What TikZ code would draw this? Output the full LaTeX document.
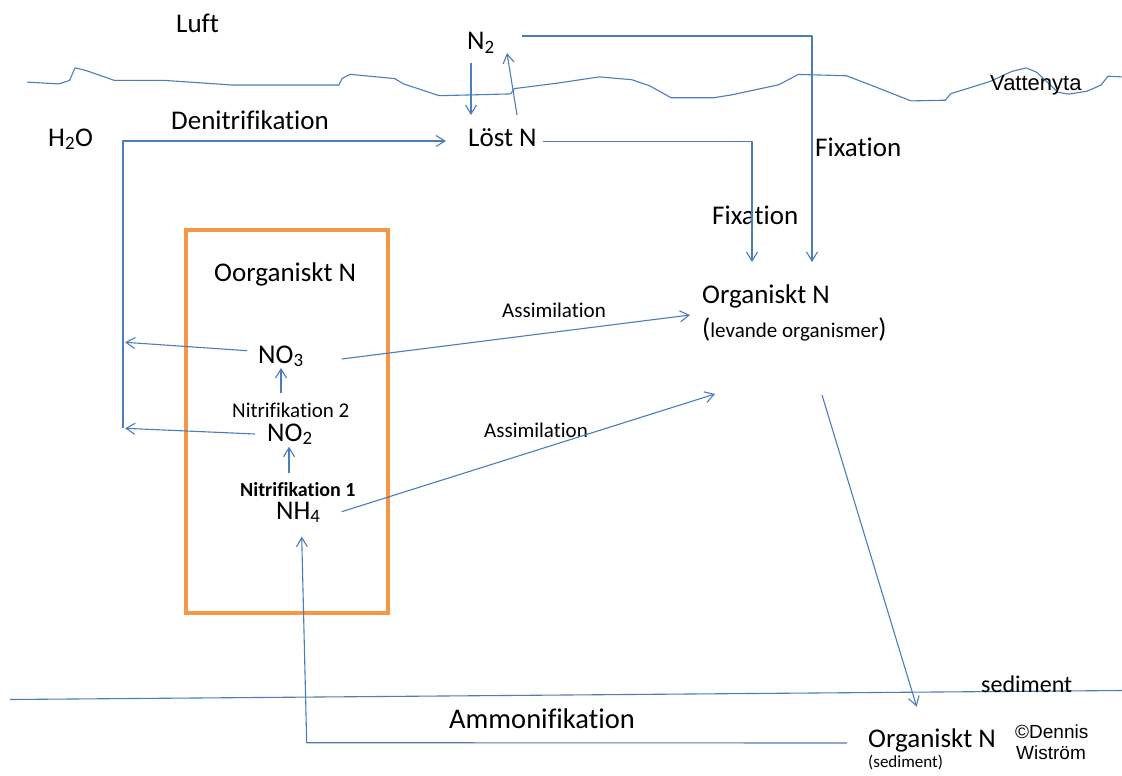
\documentclass[tikz,border=0pt]{standalone}
\usepackage{fontspec}
\setmainfont{Carlito}[Ligatures=NoCommon]
\newfontfamily\arialf{Liberation Sans}
\usetikzlibrary{arrows.meta}
\definecolor{lineblue}{HTML}{4A7EBB}
\definecolor{boxorange}{HTML}{F79646}
\tikzset{
  plain/.style={draw=lineblue, line width=1.1pt, line join=round},
  conn/.style={plain, -{Straight Barb[length=9pt,width=11pt,line width=1.1pt]}},
  big/.style={font=\fontsize{27}{32}\selectfont, inner sep=0pt, anchor=base west},
  mid/.style={font=\fontsize{21}{25}\selectfont, inner sep=0pt, anchor=base west},
  small/.style={font=\fontsize{17}{20}\selectfont, inner sep=0pt, anchor=base west},
  arial/.style={font=\arialf\fontsize{#1}{#1}\selectfont, inner sep=0pt, anchor=base west},
}
\begin{document}
\begin{tikzpicture}[x=1pt,y=-1pt]
\useasboundingbox[fill=white] (0,0) rectangle (1122,776);
% water surface
\draw[plain] (26.8,82.1) -- (58.9,83.9) -- (69.6,80.4) -- (75,67.9) -- (85.7,70.4) -- (114.3,80.4)
  -- (164.3,80.4) -- (232,85) -- (339,85) -- (342,78.6) -- (350,74.3) -- (394.6,78.6) -- (403.6,83.9)
  -- (439.3,95.7) -- (510.7,93.9) -- (514.3,88.6) -- (557,83.2) -- (599.4,76.9) -- (631.7,79.7)
  -- (649.6,85.8) -- (671,97.7) -- (714,97.7) -- (732,94.8) -- (778.6,84.8) -- (798.4,74.4)
  -- (846.7,75.8) -- (875.4,86.9) -- (911,100.9) -- (945.3,100.2) -- (950.7,93.7) -- (990,81.5)
  -- (1011.6,71.5) -- (1026,67.9) -- (1036.7,72.2) -- (1058,92.3) -- (1069,94.1) -- (1087,91.2)
  -- (1101,85.1) -- (1108,76.2) -- (1122,76.9);
% sediment line
\coordinate (sedL) at (10,699.5);
\coordinate (sedR) at (1122,690.5);
\draw[plain] (sedL) -- (sedR);
% orange box
\node[draw=boxorange, line width=3.5pt, minimum width=202pt, minimum height=383pt,
  inner sep=0pt, anchor=north west] (box) at (184,228) {};

% texts
\node[big] (luft) at (176,33) {Luft};
\node[big] (n2) at (467,50) {N\textsubscript{2}};
\node[arial=22] (vatten) at (990,91) {Vattenyta};
\node[big] (h2o) at (48,146) {H\textsubscript{2}O};
\node[big] (denit) at (171,129) {Denitrifikation};
\node[big] (lost) at (468,146) {Löst N};
\node[big] (fix1) at (815,156) {Fixation};
\node[big] (fix2) at (712,224) {Fixation};
\node[big] (oorg) at (214,281) {Oorganiskt N};
\node[mid] (assim1) at (502,317) {Assimilation};
\node[mid] (assim2) at (484,437) {Assimilation};
\node[big] (org) at (702,303) {Organiskt N};
\node[big] (lev) at (702,337) {(\fontsize{21}{25}\selectfont levande organismer\fontsize{27}{32}\selectfont)};
\node[big] (no3) at (258,363) {NO\textsubscript{3}};
\node[mid] (nit2) at (232,417) {Nitrifikation 2};
\node[big] (no2) at (267,441) {NO\textsubscript{2}};
\node[mid, font=\fontsize{20}{24}\selectfont\bfseries] (nit1) at (240,496) {Nitrifikation 1};
\node[big] (nh4) at (276,519) {NH\textsubscript{4}};
\node[big, font=\fontsize{24}{28}\selectfont] (sedlab) at (981,692) {sediment};
\node[big, font=\fontsize{28.5}{32}\selectfont] (ammon) at (449,728) {Ammonifikation};
\node[big] (orgsed) at (868,747) {Organiskt N};
\node[small] (sedsmall) at (868,767) {(sediment)};
\node[arial=19] (c1) at (1015,738) {©Dennis};
\node[arial=19] (c2) at (1016,759) {Wiström};

% connectors
\coordinate (n2out) at (522,36);
\coordinate (fixin1) at (812,262);
\draw[conn] (n2out) -| (fixin1);
\coordinate (dn1) at (471,63);
\coordinate (dn2) at (471,115);
\draw[conn] (dn1) -- (dn2);
\coordinate (up1) at (517,115);
\coordinate (up2) at (507,53);
\draw[conn] (up1) -- (up2);
\coordinate (lostout) at (543,141.7);
\coordinate (fixin2) at (752,262);
\draw[conn] (lostout) -| (fixin2);
\coordinate (denitA) at (123,428);
\coordinate (denitB) at (446,141);
\draw[conn] (denitA) |- (denitB);
\coordinate (no3l) at (247,350.7);
\coordinate (no3t) at (125,342.3);
\draw[conn] (no3l) -- (no3t);
\coordinate (no2l) at (255,434);
\coordinate (no2t) at (125,428.3);
\draw[conn] (no2l) -- (no2t);
\coordinate (n23a) at (281,393);
\coordinate (n23b) at (281,368);
\draw[conn] (n23a) -- (n23b);
\coordinate (n12a) at (289,472.7);
\coordinate (n12b) at (289,446.7);
\draw[conn] (n12a) -- (n12b);
\coordinate (as1a) at (341.7,359);
\coordinate (as1b) at (690,315);
\draw[conn] (as1a) -- (as1b);
\coordinate (as2a) at (341.7,511.7);
\coordinate (as2b) at (715,394);
\draw[conn] (as2a) -- (as2b);
\coordinate (sinkA) at (822,395);
\coordinate (sinkB) at (916.7,706.7);
\draw[conn] (sinkA) -- (sinkB);
\coordinate (amA) at (847,743);
\coordinate (amB) at (306.7,742.7);
\coordinate (amC) at (301.7,536.7);
\draw[conn] (amA) -- (amB) -- (amC);
\end{tikzpicture}
\end{document}
